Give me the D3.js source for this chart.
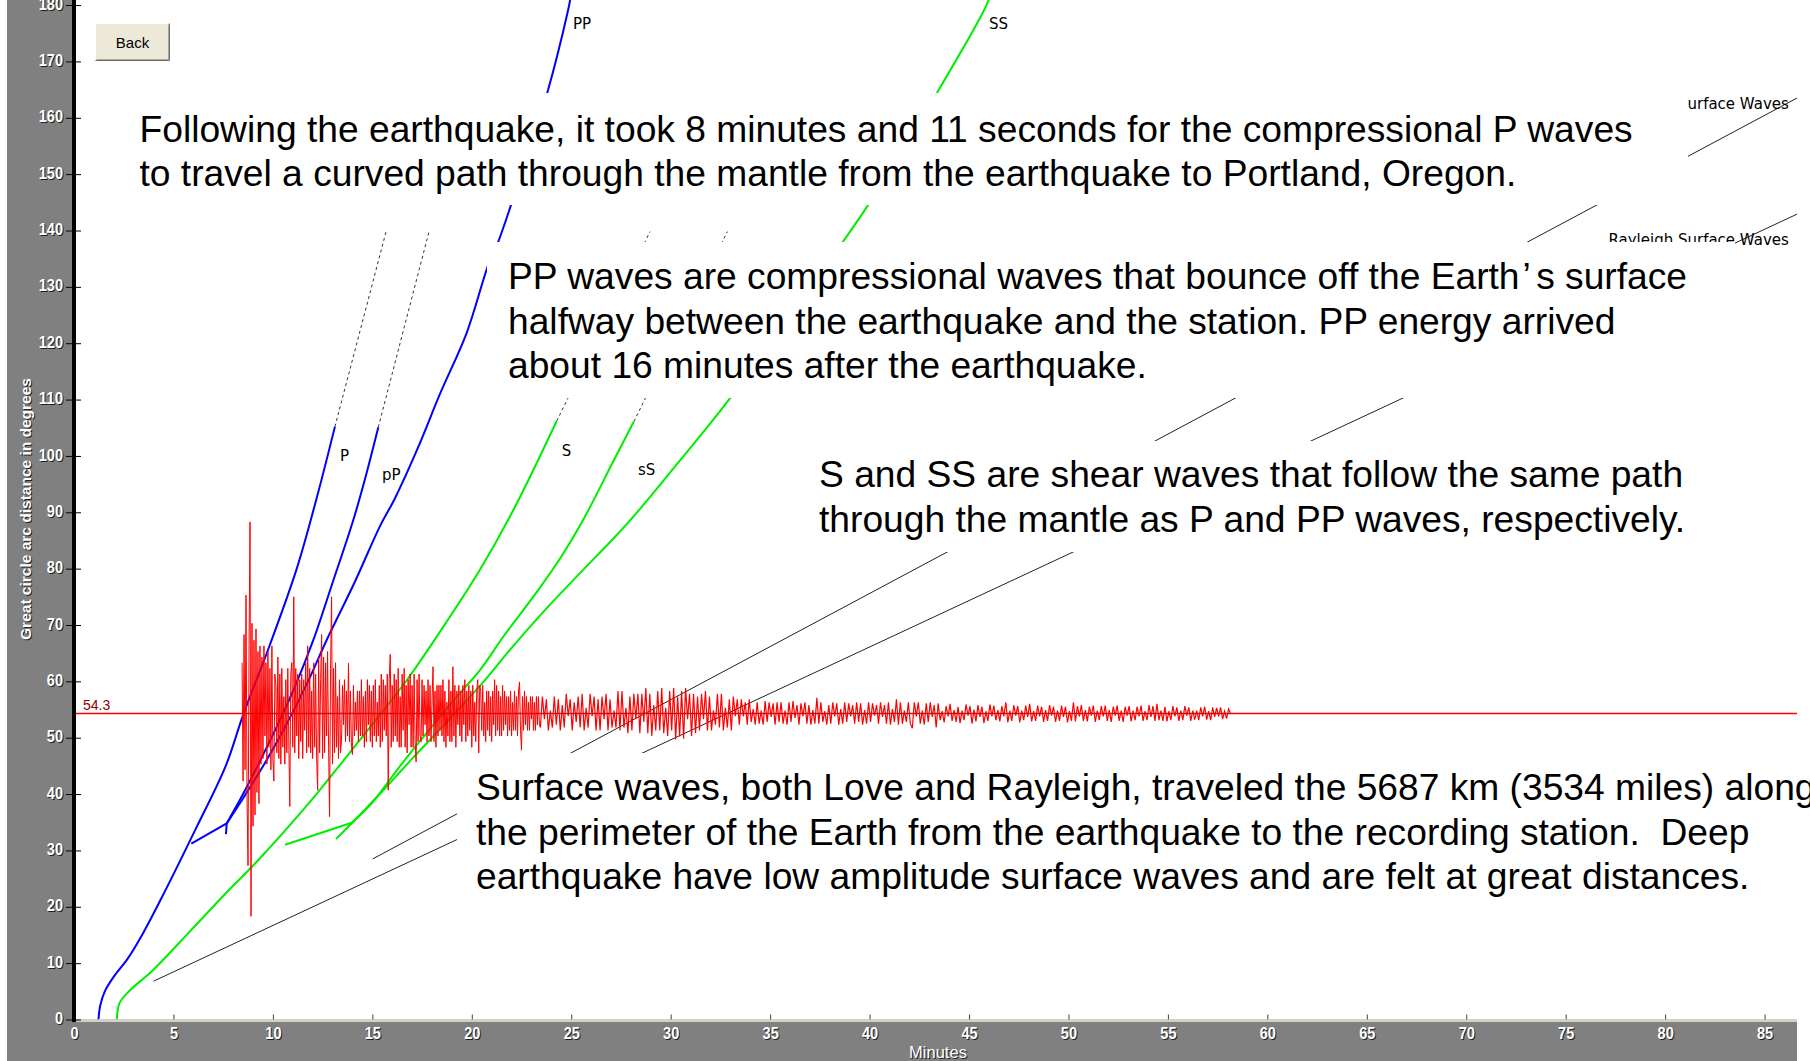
<!DOCTYPE html>
<html>
<head>
<meta charset="utf-8">
<script src="https://cdn.jsdelivr.net/npm/d3@7"></script>
<style>
  body { margin: 0; background: #fff; }
  svg { display: block; }
</style>
</head>
<body>
<div id="chart"></div>
<script>
// travel time curves: [minutes, degrees]
var P_curve = [[1.23,0],[1.32,2.5],[1.55,5.0],[2.0,7.6],[2.7,10.8],[3.5,15.5],[4.55,22.6],[6.09,33.6],[7.63,45.0],[8.5,54.0],[9.85,66.5],[11.2,80.0],[12.2,92.5],[13.12,105.2]];
var P_dash = [[13.12,105.2],[15.69,139.8]];
var pP_branch = [[5.9,31.2],[7.68,34.8],[7.64,32.9]];
var pP_curve = [[7.68,34.8],[8.5,40.0],[9.3,45.5],[10.2,52.0],[11.1,59.0],[12.03,67.3],[13.0,77.5],[14.04,88.6],[14.6,95.5],[15.3,105.1]];
var pP_dash = [[15.3,105.1],[17.85,139.8]];
var PP_curve = [[7.68,34.8],[8.6,39.8],[9.6,45.5],[10.6,51.8],[11.7,59.5],[12.7,67.3],[14.1,77.5],[15.38,87.5],[16.14,92.5],[17.3,101.5],[18.4,111.0],[19.74,121.8],[20.83,133.9],[21.33,138.0],[21.97,144.5],[23.8,164.5],[24.83,178.9],[24.95,181]];
var S_curve = [[2.15,0],[2.3,3],[2.82,5.2],[3.98,8.8],[5.9,15.9],[7.63,22.4],[9.27,28.3],[11.67,37.8],[13.04,43.7],[15.05,52.6],[16.73,60.2],[18.4,68.8],[20.41,79.8],[22.09,90.4],[24.27,106.2]];
var S_dash = [[24.27,106.2],[28.96,139.8]];
var sS_branch = [[10.61,31.0],[13.96,34.9]];
var sS_curve = [[13.96,34.9],[15.0,38.5],[16.4,45.0],[18.0,52.0],[19.3,57.5],[20.41,62.0],[21.6,68.0],[23.3,76.0],[24.6,82.7],[25.7,89.3],[27.11,99.0],[28.15,106.1]];
var sS_dash = [[28.15,106.1],[32.85,139.8]];
var SS_curve = [[13.17,32.0],[14.1,35.3],[15.5,40.5],[17.06,46.5],[18.4,51.5],[20.41,59.2],[22.09,66.3],[23.77,73.0],[25.44,79.2],[27.11,85.3],[28.29,89.9],[30.47,99.2],[32.98,110.2],[38.64,137.9],[39.92,144.5],[43.4,164.5],[45.73,178.9],[46.0,181]];
var love = [[15.02,28.5],[86.63,163.5]];
var rayleigh = [[4.0,6.8],[86.63,142.9]];

// seismogram at the station distance; amplitudes in degrees off the station line
var stationDeg = 54.3;
var earlyStart = 8.45, earlyStep = 0.05;   // 8.45 - 23.40 min
var seisEarly = [
  9,-12,14,-10,21,-15,-27,12,34,-36,16,-20,13,-18,15,-14,11,-16,12,-9,
  10,-8,12,-4,9,-9,11,-6,8,-10,12,-8,-12,7,5,-7,10,-8,7,-9,
  8,-6,3,-9,6,-7,8,-5,-16.5,7,9,-6,20.7,-7,8,-4,7,-8,6,-5,
  7,-8,6,-3,9,-7,12,-6,8,-7,4,-8,9,-6,7,-8,-13.6,10,-7,6,
  14,-8,10,-7,9,-4,11,-6,-18.3,8,20.7,-9,8,-7,9,-6,3,-8,6,-7,
  -5,5,-2,6,-5,4,-4,8.9,-5,4,-6,-7.3,5,-4,2,-3,4,-5,4,-4,
  6,-4,3,-6,4,-5,6,-2,5,-5,4,-6,5,-4,6,-5,2,-4,5,-6,
  7,-5,6,-3,5,-4,7,-13.6,6,10.5,-6,5,-5,7,-4,6,-5,8,-6,3,
  -6,7,-3,8,-6,5,-7,6,-2,7,-6,5,-6,7,-5,-8.6,6,-5,7,-4,
  -5,6,-4,5,-2,4,-5,6,-4,5,-5,2,8.3,-5,4,-6,5,-4,5,-3,
  5,-4,6,-5,4,-6,2,-4,6,-5,4,-5,8.3,-4,5,-6,4,-2,5,-4,
  4,-5,5,-2,6,-5,4,-4,5,-3,4,-6,5,-4,2,-5,4,6,-7.1,5,
  4,-3,5,-4,2,-5,4,-3,4,-4,3,-5,4,-2,6,-4,5,-3,4,-4,
  3,-4,5,-3,4,-2,3,-4,3,-3,4,-4,2,-3,4,-3,3,-4,4,5.6,
  -3,-6.5,3,-3,4,-2,3,-3,2,-3,3,-1,3,-3,2,-3,3,-2,3,-2
];
var lateStart = 23.45, lateStep = 0.1;     // 23.45 - 58.15 min
var seisLate = [
  -2.5,3,-1,2.5,-3,0.5,-2.5,3,-2,2.5,
  -3,1.5,-2.5,3.5,-0.5,2.5,-3,2,-1.5,3,
  -2.5,3.5,-3,1,-2.5,3.5,-0.5,3,-3,2.5,
  -3,3,-1,3.5,-3,2.5,-2.5,0.5,-2.5,4,
  -3,4,-2.5,1,-3.5,3,-3,3.5,-1,3.5,
  -3.5,3.5,-1.5,4.5,-3.5,3.5,-4,1.5,-3,4,
  -3,4.5,-3.5,1,-4,4,-3,4.5,-4.6,3,
  -4.1,4,-4.5,4.5,-1,3.5,-4,3.5,-3.5,3,
  -3,3.5,-1,4,-3,3,-3,0.5,-2,3.5,
  -2.5,3.5,-3,1,-2.5,2.5,-3,3,-0.5,2.5,
  -2,2.5,-0.5,2,-2,2.5,-1.5,0.8,-2,2,
  -1.8,0.5,-2,2.2,-1.5,2,-0.6,1.8,-2,2,
  -1.5,2,-1.8,0.5,-2,2,-1.5,2.2,-0.8,1.5,
  -2,1.8,-0.5,2,-1.8,1.5,-2,0.6,-1.8,2.8,
  -1.8,2,-1.5,0.4,-2,1.5,-1.8,2,-0.5,1.8,
  -2,0.8,-1.8,2,-1.5,1.8,-0.5,1.5,-1.8,2,
  -1.5,1.8,-2,0.6,-1.8,2,-1.5,1.8,-0.4,1.5,
  -1.8,2,-0.6,1.5,-1.8,2,-2,0.8,-1.5,2.5,
  -2,2,-1.8,0.5,-1.5,2,-1.8,-2.6,2,-0.5,
  2,-1.8,0.5,-2,1.8,-1.5,2,-0.6,1.5,-2.5,
  1.8,-1.2,0.4,-1.6,1.3,-0.5,1.7,-1.3,0.6,-1.5,
  1.2,-1.7,0.5,-1.2,1.6,-0.4,1.3,-1.8,0.7,-1.4,
  1.5,-0.6,1.2,-1.7,0.4,-1.3,1.6,-0.5,1.4,-1.2,
  0.6,-1.4,1.3,-0.5,2.0,-1.6,0.5,-1.3,1.5,-0.4,
  1.3,-1.6,0.5,-1.2,1.4,-0.6,1.7,-1.4,0.4,-1.3,
  1.4,-0.5,1.2,-1.5,0.6,-1.3,1.5,-0.4,1.2,-1.5,
  0.5,-1.3,1.4,-0.6,1.2,-1.6,0.4,-1.3,2.0,-1.4,
  1.3,-0.5,1.5,-1.3,0.6,-1.4,1.2,-0.4,1.4,-1.5,
  0.5,-1.2,1.3,-0.5,1.4,-1.3,0.6,-1.5,1.2,-0.4,
  1.4,-1.3,0.5,-1.5,1.2,-0.4,1.3,-1.4,0.5,-1.2,
  1.2,-0.5,1.4,-1.3,0.4,-1.2,1.5,-0.6,1.3,-1.3,
  1.7,-1.2,0.5,-1.3,1.2,-1.4,0.4,-1.2,1.3,-0.5,
  1.1,-1.3,0.5,-1.2,1.3,-0.4,1.1,-1.3,0.5,-1.1,
  0.5,-1.2,1.1,-0.5,1.2,-1.1,0.4,-1.2,1.1,-0.6,
  1.0,-0.5,1.1,-1.0,0.4,-0.9,0.8,0
];

// axis ticks
var xTicks = d3.range(0, 90, 5);
var yTicks = d3.range(0, 190, 10);

// phase labels: [text, minutes, degrees, anchor]
var phaseLabels = [
  ["PP", 25.09, 175.8, "start"],
  ["SS", 46.0, 175.8, "start"],
  ["P", 13.37, 99.1, "start"],
  ["pP", 15.49, 95.7, "start"],
  ["S", 24.52, 100.0, "start"],
  ["sS", 28.36, 96.6, "start"],
  ["Love Surface Waves", 86.22, 161.5, "end"],
  ["Rayleigh Surface Waves", 86.22, 137.4, "end"]
];

var notes = [
  { box: [121, 93, 1567, 112], tx: 139.5, ty: 141.7, lines: [
    "Following the earthquake, it took 8 minutes and 11 seconds for the compressional P waves",
    "to travel a curved path through the mantle from the earthquake to Portland, Oregon."]},
  { box: [487, 242, 1248, 156], tx: 508, ty: 289, lines: [
    "PP waves are compressional waves that bounce off the Earth\u2019s surface",
    "halfway between the earthquake and the station. PP energy arrived",
    "about 16 minutes after the earthquake."]},
  { box: [800, 441, 900, 111], tx: 819, ty: 487, lines: [
    "S and SS are shear waves that follow the same path",
    "through the mantle as P and PP waves, respectively."]},
  { box: [457, 753, 1353, 157], tx: 476, ty: 800, lines: [
    "Surface waves, both Love and Rayleigh, traveled the 5687 km (3534 miles) along",
    "the perimeter of the Earth from the earthquake to the recording station.  Deep",
    "earthquake have low amplitude surface waves and are felt at great distances."]}
];

var width = 1810, height = 1061;
var plotLeft = 76, plotRight = 1797, plotBottom = 1019.5;
var x = d3.scaleLinear().domain([0, 86.63]).range([74, 1797]);
var y = d3.scaleLinear().domain([0, 180.9]).range([1019.5, 0]);

var svg = d3.select("#chart").append("svg")
    .attr("width", width)
    .attr("height", height)
    .style("font-family", "'Liberation Sans', Arial, sans-serif");

svg.append("rect").attr("width", width).attr("height", height).attr("fill", "#fff");

// grey frame
svg.append("rect").attr("x", 7).attr("y", 0).attr("width", 66).attr("height", height).attr("fill", "#808080");
svg.append("rect").attr("x", 7).attr("y", 1022).attr("width", plotRight - 7).attr("height", height - 1022).attr("fill", "#808080");
svg.append("rect").attr("x", 74).attr("y", 1019).attr("width", plotRight - 74).attr("height", 3).attr("fill", "#d4d0c8");

svg.append("defs").append("clipPath").attr("id", "plotclip")
  .append("rect").attr("x", plotLeft).attr("y", 0).attr("width", plotRight - plotLeft).attr("height", plotBottom);

var plot = svg.append("g").attr("clip-path", "url(#plotclip)");

var smooth = d3.line().x(function(d) { return x(d[0]); }).y(function(d) { return y(d[1]); }).curve(d3.curveCatmullRom.alpha(0.5));
var straight = d3.line().x(function(d) { return x(d[0]); }).y(function(d) { return y(d[1]); });

// surface waves
[love, rayleigh].forEach(function(d) {
  plot.append("path").attr("d", straight(d)).attr("fill", "none").attr("stroke", "#222").attr("stroke-width", 1);
});

// dashed continuations
[P_dash, pP_dash, S_dash, sS_dash].forEach(function(d) {
  plot.append("path").attr("d", straight(d)).attr("fill", "none")
    .attr("stroke", "#333").attr("stroke-width", 1).attr("stroke-dasharray", "3,3");
});

// P phases
[P_curve, pP_curve, PP_curve].forEach(function(d) {
  plot.append("path").attr("d", smooth(d)).attr("fill", "none").attr("stroke", "#0000ff").attr("stroke-width", 2);
});
plot.append("path").attr("d", straight(pP_branch)).attr("fill", "none").attr("stroke", "#0000ff").attr("stroke-width", 2);

// S phases
[S_curve, sS_curve, SS_curve].forEach(function(d) {
  plot.append("path").attr("d", smooth(d)).attr("fill", "none").attr("stroke", "#00ee00").attr("stroke-width", 2);
});
plot.append("path").attr("d", straight(sS_branch)).attr("fill", "none").attr("stroke", "#00ee00").attr("stroke-width", 2);

// station line + seismogram
plot.append("line")
  .attr("x1", x(0)).attr("x2", x(86.63))
  .attr("y1", y(stationDeg)).attr("y2", y(stationDeg))
  .attr("stroke", "#ff0000").attr("stroke-width", 1.5);

var early = seisEarly.map(function(a, i) { return [earlyStart + i * earlyStep, stationDeg + a]; });
var late = seisLate.map(function(a, i) { return [lateStart + i * lateStep, stationDeg + a]; });
plot.append("path").attr("d", straight(early)).attr("fill", "none")
  .attr("stroke", "#ff0000").attr("stroke-width", 1);
plot.append("path").attr("d", straight([early[early.length - 1]].concat(late))).attr("fill", "none")
  .attr("stroke", "#ff0000").attr("stroke-width", 1.2);
plot.append("line")
  .attr("x1", x(earlyStart)).attr("x2", x(late[late.length - 1][0]))
  .attr("y1", y(stationDeg)).attr("y2", y(stationDeg))
  .attr("stroke", "#902020").attr("stroke-opacity", 0.45).attr("stroke-width", 1);

plot.append("text")
  .attr("x", x(0.45)).attr("y", y(54.9))
  .attr("fill", "#8b0000").style("font-size", "14px")
  .text("54.3");

plot.selectAll("text.phase").data(phaseLabels).enter().append("text")
  .attr("class", "phase")
  .attr("x", function(d) { return x(d[1]); })
  .attr("y", function(d) { return y(d[2]); })
  .attr("text-anchor", function(d) { return d[3]; })
  .style("font-family", "'DejaVu Sans', sans-serif")
  .style("font-size", "15px")
  .text(function(d) { return d[0]; });

// annotation boxes
var note = svg.selectAll("g.note").data(notes).enter().append("g").attr("class", "note");
note.append("rect")
  .attr("x", function(d) { return d.box[0]; })
  .attr("y", function(d) { return d.box[1]; })
  .attr("width", function(d) { return d.box[2]; })
  .attr("height", function(d) { return d.box[3]; })
  .attr("fill", "#fff");
note.each(function(d) {
  var g = d3.select(this);
  d.lines.forEach(function(line, i) {
    var t = g.append("text")
      .attr("x", d.tx).attr("y", d.ty + i * 44.5)
      .style("font-size", "37.2px")
      .style("white-space", "pre")
      .attr("fill", "#000");
    var parts = line.split("\u2019");
    if (parts.length === 2) {
      t.append("tspan").text(parts[0]);
      t.append("tspan").attr("dx", 3).text("\u2019");
      t.append("tspan").attr("dx", 6).text(parts[1]);
    } else {
      t.text(line);
    }
  });
});

// axes: dark shadow copy then white labels
function styleAxis(g, fill, dx, dy, hideLines) {
  g.select(".domain").remove();
  g.selectAll(".tick line").attr("stroke", hideLines ? "none" : "#000");
  g.selectAll(".tick text")
    .attr("fill", fill)
    .attr("transform", "translate(" + dx + "," + dy + ")")
    .style("font-size", "16px")
    .style("font-weight", "bold")
    .attr("textLength", function(d) { return String(d).length * 8.1; })
    .attr("lengthAdjust", "spacingAndGlyphs");
}

var yAxis = d3.axisLeft(y).tickValues(yTicks).tickSize(15).tickPadding(3);
svg.append("g").attr("transform", "translate(81,-1)").call(yAxis)
  .call(styleAxis, "#202020", 1, 1, true);
svg.append("g").attr("class", "yaxis").attr("transform", "translate(81,-1)").call(yAxis)
  .call(styleAxis, "#fff", 0, 0, false);
svg.selectAll(".yaxis .tick line").attr("transform", "translate(0,1)");

var xAxis = d3.axisBottom(x).tickValues(xTicks).tickSizeInner(-5).tickSizeOuter(0).tickPadding(8.5);
svg.append("g").attr("transform", "translate(0," + plotBottom + ")").call(xAxis)
  .call(styleAxis, "#202020", 1, 1, true);
svg.append("g").attr("class", "xaxis").attr("transform", "translate(0," + plotBottom + ")").call(xAxis)
  .call(styleAxis, "#fff", 0, 0, false);
svg.selectAll(".xaxis .tick line").attr("stroke", "#404040");

// black left axis bar
svg.append("rect").attr("x", 72).attr("y", 0).attr("width", 4).attr("height", 1022).attr("fill", "#000");

// axis titles
[["#202020", 1], ["#fff", 0]].forEach(function(c) {
  svg.append("text")
    .attr("transform", "translate(" + (31 + c[1]) + "," + (509 + c[1]) + ") rotate(-90)")
    .attr("text-anchor", "middle")
    .attr("fill", c[0])
    .style("font-size", "15.5px").style("font-weight", "bold")
    .text("Great circle arc distance in degrees");
  svg.append("text")
    .attr("x", 938 + c[1]).attr("y", 1058 + c[1])
    .attr("text-anchor", "middle")
    .attr("fill", c[0])
    .style("font-size", "16.5px")
    .text("Minutes");
});

// Back button
var btn = svg.append("g").attr("transform", "translate(95,23)");
btn.append("rect").attr("width", 75).attr("height", 38).attr("fill", "#ece9d8");
btn.append("path").attr("d", "M0.5,37.5V0.5H74.5").attr("fill", "none").attr("stroke", "#fff");
btn.append("path").attr("d", "M0.5,37.5H74.5V0.5").attr("fill", "none").attr("stroke", "#716f64");
btn.append("path").attr("d", "M1.5,36.5H73.5V1.5").attr("fill", "none").attr("stroke", "#aca899");
btn.append("text").attr("x", 37.5).attr("y", 24.5).attr("text-anchor", "middle")
  .style("font-size", "15px").attr("fill", "#000").text("Back");
</script>
</body>
</html>
